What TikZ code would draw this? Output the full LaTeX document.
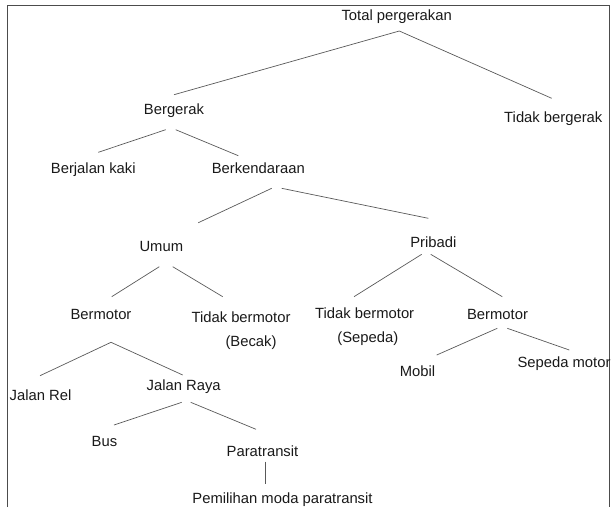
\documentclass[tikz,border=0pt]{standalone}
\usepackage{fontspec}
\setmainfont{Liberation Sans}
\usetikzlibrary{calc}
\begin{document}
\begin{tikzpicture}[x=1pt,y=-1pt,
  lbl/.style={inner sep=0pt, text height=10.6pt, text depth=3.1pt, font=\fontsize{14.8}{17}\selectfont, text=black!90},
  edge/.style={draw=black!65, line width=0.7pt},
  frame/.style={draw=black!70, line width=0.9pt}]
\useasboundingbox (0,0) rectangle (613,507);
\draw[frame] (7.3,507) -- (7.3,5.7) -- (609.3,5.7) -- (609.3,507);

\node[lbl] (total) at (396.7,16.7) {Total pergerakan};
\node[lbl] (bergerak) at (174,111) {Bergerak};
\node[lbl] (tidakbergerak) at (553.3,118.3) {Tidak bergerak};
\node[lbl] (jalankaki) at (93.3,170) {Berjalan kaki};
\node[lbl] (kendaraan) at (258.3,170) {Berkendaraan};
\node[lbl] (umum) at (161.3,247.3) {Umum};
\node[lbl] (pribadi) at (433.3,244) {Pribadi};
\node[lbl] (bermotorA) at (101,316) {Bermotor};
\node[lbl] (becak) at (241,318.7) {Tidak bermotor};
\node[lbl] (becakB) at (251,342.7) {(Becak)};
\node[lbl] (sepeda) at (364.7,315) {Tidak bermotor};
\node[lbl] (sepedaB) at (367.8,338.3) {(Sepeda)};
\node[lbl] (bermotorB) at (497.5,315.7) {Bermotor};
\node[lbl] (rel) at (40.5,396.7) {Jalan Rel};
\node[lbl] (raya) at (183.7,386.7) {Jalan Raya};
\node[lbl] (mobil) at (417.5,372.7) {Mobil};
\node[lbl] (spmotor) at (564,364) {Sepeda motor};
\node[lbl] (bus) at (104.5,442.7) {Bus};
\node[lbl] (para) at (262.5,452.7) {Paratransit};
\node[lbl] (pemilihan) at (282.5,499.3) {Pemilihan moda paratransit};

\draw[edge] ($(total)+(2.6,14.3)$) -- ($(bergerak)+(0,-16.3)$);
\draw[edge] ($(total)+(2.6,14.3)$) -- ($(tidakbergerak)+(-1.6,-20)$);
\draw[edge] ($(bergerak)+(-8.3,18.7)$) -- ($(jalankaki)+(5,-17.7)$);
\draw[edge] ($(bergerak)+(1.7,18.7)$) -- ($(kendaraan)+(-20,-14.3)$);
\draw[edge] ($(kendaraan)+(13.4,18.3)$) -- ($(umum)+(37,-24.6)$);
\draw[edge] ($(kendaraan)+(23.4,18.3)$) -- ($(pribadi)+(-5,-25.7)$);
\draw[edge] ($(umum)+(-2,19.4)$) -- ($(bermotorA)+(10.7,-19.3)$);
\draw[edge] ($(umum)+(11.4,19.4)$) -- ($(becak)+(-18.3,-22)$);
\draw[edge] ($(pribadi)+(-11.6,10.3)$) -- ($(sepeda)+(-10.7,-18.3)$);
\draw[edge] ($(pribadi)+(-2.6,10.3)$) -- ($(bermotorB)+(4.8,-19)$);
\draw[edge] ($(bermotorA)+(10,26.3)$) -- ($(rel)+(-0.5,-21)$);
\draw[edge] ($(bermotorA)+(10,26.3)$) -- ($(raya)+(-1,-11.7)$);
\draw[edge] ($(bermotorB)+(-0.2,12.6)$) -- ($(mobil)+(19.2,-17.7)$);
\draw[edge] ($(bermotorB)+(9.8,12.6)$) -- ($(spmotor)+(5.3,-14)$);
\draw[edge] ($(raya)+(-2,15.6)$) -- ($(bus)+(9.5,-17.7)$);
\draw[edge] ($(raya)+(7,15.6)$) -- ($(para)+(-6.5,-23.4)$);
\draw[edge] ($(para)+(3.2,9)$) -- ($(pemilihan)+(-16.8,-15.3)$);
\end{tikzpicture}
\end{document}
